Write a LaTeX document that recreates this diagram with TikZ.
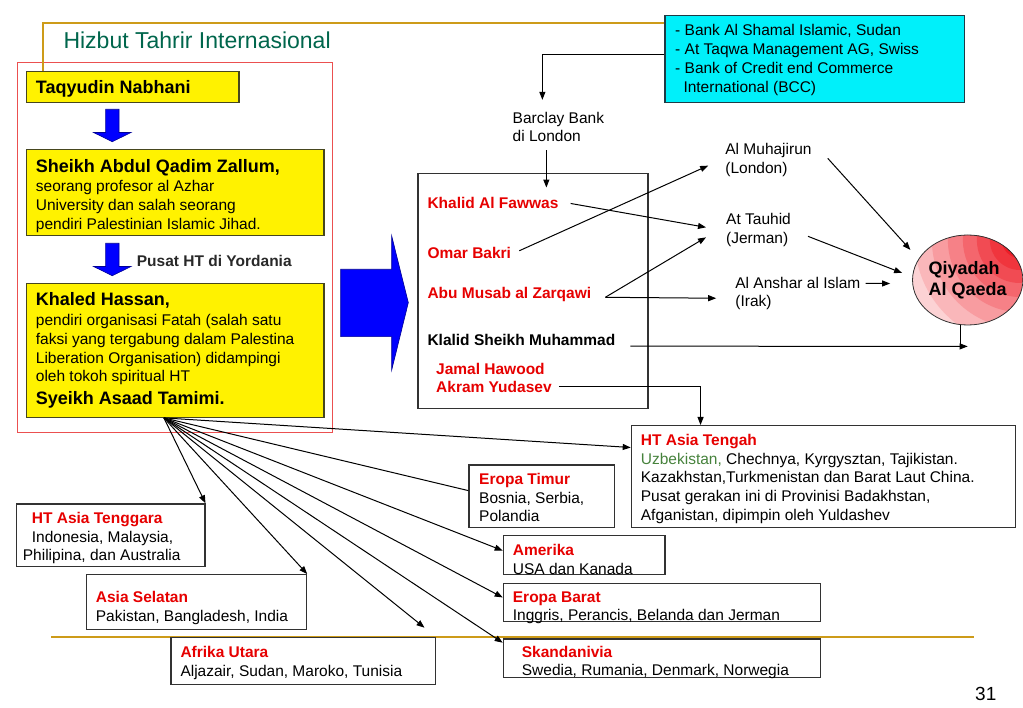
\documentclass[tikz,border=0pt]{standalone}
\usepackage{fontspec}
\setmainfont{Liberation Sans}
\usetikzlibrary{arrows.meta,shapes.geometric}

\definecolor{hred}{RGB}{230,0,0}
\definecolor{qred}{RGB}{238,30,40}
\definecolor{titlegreen}{RGB}{0,102,76}
\definecolor{uzgreen}{RGB}{70,130,60}
\definecolor{slidegold}{RGB}{205,155,25}
\definecolor{framered}{RGB}{235,80,80}
\definecolor{boxgray}{RGB}{50,50,50}
\definecolor{ylborder}{RGB}{70,70,30}
\definecolor{cyanfill}{RGB}{0,240,250}
\definecolor{cyanedge}{RGB}{30,60,70}
\definecolor{blockblue}{RGB}{0,0,255}
\definecolor{blockedge}{RGB}{0,0,150}
\definecolor{pusatgray}{RGB}{40,40,40}

\newcommand\hdfont{\bfseries\fontsize{18}{18.7}\selectfont}

% multi-line texts sit on the baseline of their last line
\tikzset{
  boxframe/.style={draw=boxgray, line width=1.2pt, anchor=north west, inner sep=0pt},
  yellowbox/.style={boxframe, draw=ylborder, fill=yellow},
  txt/.style={inner sep=0pt, anchor=base west, align=left, font=\fontsize{15.5}{18.7}\selectfont},
  redtxt/.style={txt, text=hred, font=\bfseries\fontsize{15.5}{18.7}\selectfont},
  link/.style={black, line width=1pt, -{Triangle[length=8pt,width=6pt]}},
  plainlink/.style={black, line width=1pt},
  blockarrow/.style={fill=blockblue, draw=blockedge, line width=0.6pt},
  goldline/.style={slidegold, line width=1.8pt},
  % red glow from the upper right, built from rings
  redglow/.style={path picture={
    \coordinate (glow) at ([xshift=-3pt,yshift=-5pt]path picture bounding box.north east);
    \fill[qred!8!white] (glow) circle (150pt);
    \fill[qred!20!white] (glow) circle (125pt);
    \fill[qred!32!white] (glow) circle (105pt);
    \fill[qred!44!white] (glow) circle (88pt);
    \fill[qred!56!white] (glow) circle (72pt);
    \fill[qred!68!white] (glow) circle (57pt);
    \fill[qred!80!white] (glow) circle (43pt);
    \fill[qred!90!white] (glow) circle (30pt);
    \fill[qred] (glow) circle (18pt);}},
}

\begin{document}
\begin{tikzpicture}[x=1pt,y=-1pt]
\useasboundingbox (0,0) rectangle (1023,708);

% slide rule at the bottom
\draw[goldline] (51,637.3) -- (974.4,637.3);

% Hizbut Tahrir column
\node[txt, font=\fontsize{23}{27}\selectfont, text=titlegreen] (title) at (63.3,49) {Hizbut Tahrir Internasional};
\node[boxframe, draw=framered, line width=1pt, minimum width=315.6pt, minimum height=370pt] (htframe) at (16.7,62.3) {};
\node[yellowbox, minimum width=212.6pt, minimum height=31.3pt] (taq) at (25.7,70.7) {};
\node[yellowbox, minimum width=297.6pt, minimum height=85.7pt] (sheikh) at (25.7,149.3) {};
\node[yellowbox, minimum width=297.6pt, minimum height=134pt] (khaled) at (25.7,282.7) {};

\node[txt, font=\hdfont] (taqtxt) at (35.7,93.3) {Taqyudin Nabhani};
\node[txt] (sheikhtxt) at (35.7,229.4) {{\hdfont Sheikh Abdul Qadim Zallum,}\\[1pt]
  seorang profesor al Azhar\\ University dan salah seorang\\ pendiri Palestinian Islamic Jihad.};
\node[txt] (khaledtxt) at (35.7,404.1) {{\hdfont Khaled Hassan,}\\[1pt]
  pendiri organisasi Fatah (salah satu\\ faksi yang tergabung dalam Palestina\\
  Liberation Organisation) didampingi\\ oleh tokoh spiritual HT\\[3.6pt]
  {\hdfont Syeikh Asaad Tamimi.}};
\node[txt, font=\bfseries\fontsize{15.5}{18.7}\selectfont, text=pusatgray] (pusat) at (136.7,266.7) {Pusat HT di Yordania};

% block arrows
\foreach \y in {109.3,243.3}
  \filldraw[blockarrow] (105.6,\y) -- (119,\y) -- (119,\y+23.2) -- (131,\y+23.2)
    -- (112.3,\y+32.4) -- (93.6,\y+23.2) -- (105.6,\y+23.2) -- cycle;
\filldraw[blockarrow] (340.7,269.3) -- (391.7,269.3) -- (391.7,236) -- (408.3,302.7)
  -- (391.7,370) -- (391.7,336.7) -- (340.7,336.7) -- cycle;

% funding
\node[boxframe, draw=cyanedge, fill=cyanfill, minimum width=299.4pt, minimum height=86.7pt] (cyan) at (664.4,15) {};
\node[txt] (cyantxt) at (675,92.1) {- Bank Al Shamal Islamic, Sudan\\ - At Taqwa Management AG, Swiss\\
  - Bank of Credit end Commerce\\ \hspace*{8.3pt}International (BCC)};
\draw[goldline] ([xshift=17pt]taq.north west) |- ([yshift=-8.3pt]cyan.north west);
\node[txt] (barclay) at (512.5,142) {Barclay Bank\\ di London};

% network
\node[boxframe, minimum width=230pt, minimum height=235pt] (cell) at (417.3,173.3) {};
\node[redtxt] (khalid) at (427.3,209) {Khalid Al Fawwas};
\node[redtxt] (omar) at (427.3,259) {Omar Bakri};
\node[redtxt] (abu) at (427.3,298.3) {Abu Musab al Zarqawi};
\node[redtxt, text=black] (klalid) at (427.3,345.7) {Klalid Sheikh Muhammad};
\node[redtxt] (jamal) at (436,393) {Jamal Hawood\\ Akram Yudasev};

\node[txt] (muhajirun) at (725.2,173.7) {Al Muhajirun\\ (London)};
\node[txt] (tauhid) at (726,243.7) {At Tauhid\\ (Jerman)};
\node[txt] (anshar) at (735.2,307) {Al Anshar al Islam\\ (Irak)};
\node[ellipse, draw=boxgray, line width=0.8pt, minimum width=109pt, minimum height=90pt, inner sep=0pt,
  redglow, align=left, font=\bfseries\fontsize{18}{21}\selectfont] (qiyadah) at (967.7,280) {Qiyadah\\ Al Qaeda};

\draw[link] ([yshift=4pt]cyan.west) -| ([xshift=-16pt,yshift=12pt]barclay.north);
\draw[link] ([xshift=-12pt,yshift=-8pt]barclay.south) -- ([xshift=-12pt,yshift=10pt]barclay.south |- khalid.north);
\draw[link] ([xshift=12pt]khalid.east) -- ([xshift=-20pt,yshift=3pt]tauhid.west);
\draw[link] ([xshift=8pt,yshift=2.7pt]omar.east) -- ([xshift=-17pt,yshift=-5.3pt]muhajirun.west);
\draw[link] ([xshift=14pt,yshift=-3pt]abu.east) -- ([xshift=-20pt,yshift=-7pt]tauhid.west);
\draw[link] ([xshift=14pt,yshift=-3pt]abu.east) -- ([xshift=-19pt,yshift=-4.6pt]anshar.west);
\draw[link] ([xshift=16pt,yshift=2pt]muhajirun.east) -- ([xshift=-18pt,yshift=-2pt]qiyadah.north west);
\draw[link] ([xshift=17pt,yshift=-6pt]tauhid.east) -- ([xshift=-10pt,yshift=7pt]qiyadah.west);
\draw[link] ([xshift=5pt,yshift=10.2pt]anshar.east) -- ([xshift=-22pt,yshift=-3.5pt]qiyadah.west);
\draw[link] ([xshift=15pt,yshift=-6pt]klalid.east) -- ([yshift=-21pt]qiyadah.south);
\draw[plainlink] ([xshift=-7.7pt]qiyadah.south) -- ([xshift=-7.7pt,yshift=-21.5pt]qiyadah.south);

% regions
\node[boxframe, minimum width=384.3pt, minimum height=101.7pt] (tengah) at (630.7,425) {};
\node[boxframe, minimum width=145.4pt, minimum height=62.4pt] (timur) at (468.3,464.3) {};
\node[boxframe, minimum width=161.6pt, minimum height=39pt] (amerika) at (502.7,535) {};
\node[boxframe, minimum width=317pt, minimum height=38.3pt] (barat) at (502.7,582.7) {};
\node[boxframe, minimum width=317pt, minimum height=38.4pt] (skand) at (502.7,638.3) {};
\node[boxframe, minimum width=188.6pt, minimum height=62.7pt] (tenggara) at (15.7,503.3) {};
\node[boxframe, minimum width=220.3pt, minimum height=55pt] (selatan) at (85.7,574) {};
\node[boxframe, minimum width=264.4pt, minimum height=47.3pt] (afrika) at (170.3,636.7) {};

\node[txt] (tengahtxt) at (640.7,520.3) {\textcolor{hred}{\bfseries HT Asia Tengah}\\
  \textcolor{uzgreen}{Uzbekistan,} Chechnya, Kyrgysztan, Tajikistan.\\
  Kazakhstan,Turkmenistan dan Barat Laut China.\\ Pusat gerakan ini di Provinisi Badakhstan,\\
  Afganistan, dipimpin oleh Yuldashev};
\node[txt] (timurtxt) at (479,521.9) {\textcolor{hred}{\bfseries Eropa Timur}\\ Bosnia, Serbia,\\ Polandia};
\node[txt] (amerikatxt) at (512.7,574.2) {\textcolor{hred}{\bfseries Amerika}\\ USA dan Kanada};
\node[txt] (barattxt) at (512.7,620.9) {\textcolor{hred}{\bfseries Eropa Barat}\\ Inggris, Perancis, Belanda dan Jerman};
\node[txt] (skandtxt) at (521.7,675.9) {\textcolor{hred}{\bfseries Skandanivia}\\ Swedia, Rumania, Denmark, Norwegia};
\node[txt] (tenggaratxt) at (22.7,560.9) {\hspace*{9pt}\textcolor{hred}{\bfseries HT Asia Tenggara}\\
  \hspace*{9pt}Indonesia, Malaysia,\\ Philipina, dan Australia};
\node[txt] (selatantxt) at (95.7,621.5) {\textcolor{hred}{\bfseries Asia Selatan}\\ Pakistan, Bangladesh, India};
\node[txt] (afrikatxt) at (180.3,676.5) {\textcolor{hred}{\bfseries Afrika Utara}\\ Aljazair, Sudan, Maroko, Tunisia};

\draw[link] ([xshift=7pt,yshift=-8pt]jamal.east) -| ([xshift=-122.9pt]tengah.north);

% spread of HT
\coordinate (fan) at ([xshift=-11.2pt]khaled.south);
\foreach \t/\a/\dx/\dy in {tenggara/north east/0/0, selatan/north east/0/0, afrika/north east/-11.4/9,
    skand/north west/0/-4.4, barat/west/0/5, amerika/west/0/4.5, tengah/north west/0/-22.5}
  \draw[link] (fan) -- ([xshift=\dx pt,yshift=\dy pt]\t.\a);
\draw[plainlink] (fan) -- ([yshift=5.5pt]timur.west);

\node[txt, font=\fontsize{19}{22}\selectfont] (page) at (975,700) {31};
\end{tikzpicture}
\end{document}
